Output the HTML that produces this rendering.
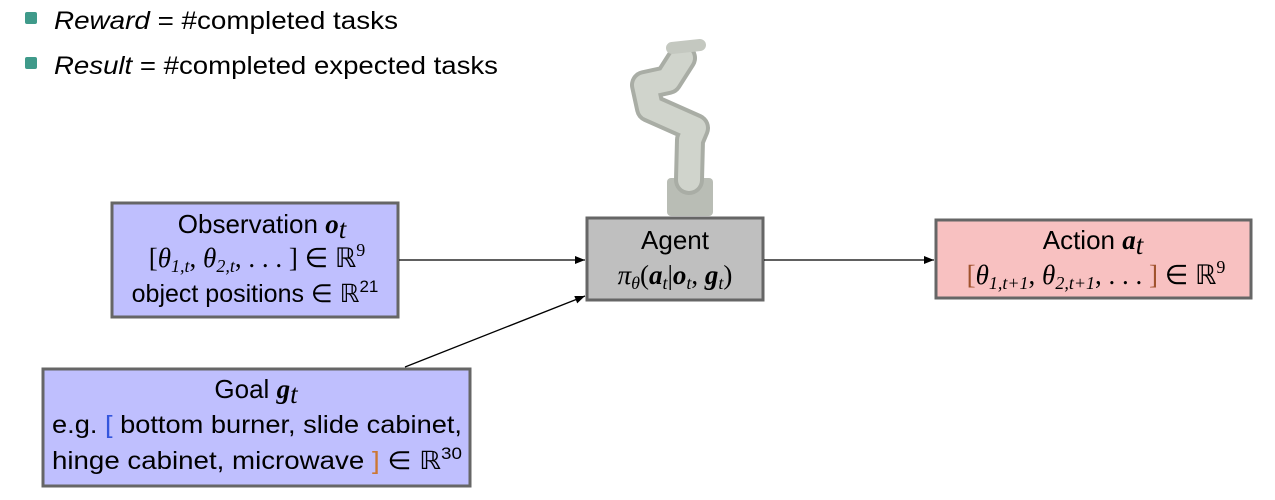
<!DOCTYPE html>
<html><head><meta charset="utf-8"><style>
body{margin:0;background:#fff;width:1275px;height:495px;overflow:hidden;font-family:"Liberation Sans",sans-serif;}
.t{font-family:"Liberation Sans",sans-serif;font-size:25px;fill:#000}
.h{font-size:26px}
.m{font-family:"Liberation Serif",serif;font-size:27px}
</style></head><body>
<svg width="1275" height="495">
<defs><marker id="ar" markerWidth="10" markerHeight="8" refX="10" refY="4" orient="auto" markerUnits="userSpaceOnUse"><path d="M0,0 L10,4 L0,8 z" fill="#000"/></marker></defs>
<g>
<rect x="25" y="12" width="12" height="12" rx="2" fill="#3f9a8a"/>
<text x="54" y="29" class="t" textLength="344" lengthAdjust="spacingAndGlyphs"><tspan font-style="italic">Reward</tspan> = #completed tasks</text>
<rect x="25" y="57" width="12" height="12" rx="2" fill="#3f9a8a"/>
<text x="54" y="74" class="t" textLength="444" lengthAdjust="spacingAndGlyphs"><tspan font-style="italic">Result</tspan> = #completed expected tasks</text>
</g>
<g fill="none" stroke-linecap="round" stroke-linejoin="round">
<rect x="667" y="178" width="46" height="38" rx="4" fill="#b9bdb5"/>
<path d="M689,180 L690,140 L695,128 L650,108 L645,85 L668,80 L682,58" stroke="#a9ada5" stroke-width="30"/>
<path d="M689,180 L690,140 L695,128 L650,108 L645,85 L668,80 L682,58" stroke="#d0d4cc" stroke-width="22"/>
<path d="M672,48 L700,45" stroke="#c4c8c0" stroke-width="12"/>
</g>
<g>
<rect x="112" y="203" width="286" height="114" fill="#bfbffe" stroke="#666" stroke-width="3"/>
<text x="262" y="233" text-anchor="middle" class="t h">Observation <tspan class="m" font-weight="bold" font-style="italic">o</tspan><tspan class="m" font-style="italic" font-size="18" dy="5">t</tspan></text>
<text x="257" y="267" text-anchor="middle" class="m">[<tspan font-style="italic">θ</tspan><tspan font-size="18" dy="5" font-style="italic">1,t</tspan><tspan dy="-5">, </tspan><tspan font-style="italic">θ</tspan><tspan font-size="18" dy="5" font-style="italic">2,t</tspan><tspan dy="-5">, . . . ] ∈ ℝ</tspan><tspan font-size="18" dy="-11">9</tspan></text>
<text x="255" y="302" text-anchor="middle" class="t">object positions ∈ ℝ<tspan font-size="17" dy="-10">21</tspan></text>
</g>
<g>
<rect x="43" y="369" width="427" height="117" fill="#bfbffe" stroke="#666" stroke-width="3"/>
<text x="256" y="398" text-anchor="middle" class="t h">Goal <tspan class="m" font-weight="bold" font-style="italic">g</tspan><tspan class="m" font-style="italic" font-size="18" dy="5">t</tspan></text>
<text x="257" y="433" text-anchor="middle" class="t" textLength="410" lengthAdjust="spacingAndGlyphs">e.g. <tspan fill="#3355dd">[</tspan> bottom burner, slide cabinet,</text>
<text x="257" y="469" text-anchor="middle" class="t" textLength="410" lengthAdjust="spacingAndGlyphs">hinge cabinet, microwave <tspan fill="#cc7733">]</tspan> ∈ ℝ<tspan font-size="17" dy="-10">30</tspan></text>
</g>
<g>
<rect x="587" y="218" width="176" height="82" fill="#bfbfbf" stroke="#666" stroke-width="3"/>
<text x="675" y="249" text-anchor="middle" class="t h">Agent</text>
<text x="675" y="284" text-anchor="middle" class="m" font-size="28"><tspan font-style="italic">π</tspan><tspan font-size="18" dy="5" font-style="italic">θ</tspan><tspan dy="-5">(</tspan><tspan font-weight="bold" font-style="italic">a</tspan><tspan font-size="18" dy="5" font-style="italic">t</tspan><tspan dy="-5">|</tspan><tspan font-weight="bold" font-style="italic">o</tspan><tspan font-size="18" dy="5" font-style="italic">t</tspan><tspan dy="-5">, </tspan><tspan font-weight="bold" font-style="italic">g</tspan><tspan font-size="18" dy="5" font-style="italic">t</tspan><tspan dy="-5">)</tspan></text>
</g>
<g>
<rect x="936" y="220" width="315" height="78" fill="#f8c1c1" stroke="#666" stroke-width="3"/>
<text x="1093" y="249" text-anchor="middle" class="t h">Action <tspan class="m" font-weight="bold" font-style="italic">a</tspan><tspan class="m" font-style="italic" font-size="18" dy="5">t</tspan></text>
<text x="1096" y="284" text-anchor="middle" class="m"><tspan fill="#a0522d">[</tspan><tspan font-style="italic">θ</tspan><tspan font-size="18" dy="5" font-style="italic">1,t+1</tspan><tspan dy="-5">, </tspan><tspan font-style="italic">θ</tspan><tspan font-size="18" dy="5" font-style="italic">2,t+1</tspan><tspan dy="-5">, . . . </tspan><tspan fill="#a0522d">]</tspan> ∈ ℝ<tspan font-size="18" dy="-11">9</tspan></text>
</g>
<g stroke="#000" stroke-width="1.3">
<line x1="399" y1="260" x2="585" y2="260" marker-end="url(#ar)"/>
<line x1="405" y1="367" x2="585" y2="296" marker-end="url(#ar)"/>
<line x1="764" y1="260" x2="934" y2="260" marker-end="url(#ar)"/>
</g>
</svg>
</body></html>
